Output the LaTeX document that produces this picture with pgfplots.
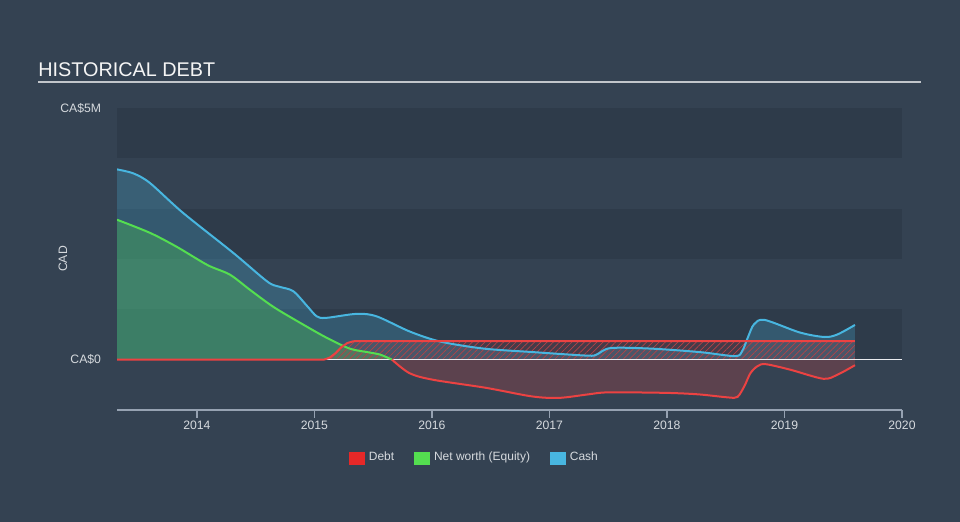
\documentclass[border=0pt]{standalone}
\usepackage{fontspec}
\setmainfont{Liberation Sans}
\usepackage{pgfplots}
\pgfplotsset{compat=1.18}
\usepgfplotslibrary{fillbetween}
\usetikzlibrary{patterns.meta}

\definecolor{bg}{RGB}{52,66,82}
\definecolor{band}{RGB}{46,59,74}
\definecolor{debtred}{RGB}{236,66,66}
\definecolor{legred}{RGB}{230,40,40}
\definecolor{eqgreen}{RGB}{84,222,80}
\definecolor{cashblue}{RGB}{72,182,224}
\definecolor{txt}{RGB}{214,218,222}
\definecolor{axisgray}{RGB}{150,162,178}
\pagecolor{bg}

\begin{document}
\begin{tikzpicture}
\begin{scope}[x=0.5pt,y=0.5pt]
  \useasboundingbox (0,0) rectangle (960,522);
  \node[anchor=base west, inner sep=0pt, text=white!92!gray,
        font=\fontsize{9.9}{12}\selectfont] at (38,445) {HISTORICAL DEBT};
  \draw[white!70!bg, line width=0.7pt] (38,440) -- (921,440);
\end{scope}

\begin{axis}[
    at={(58.5pt,56pt)}, anchor=south west,
    scale only axis, width=392.5pt, height=151pt,
    xmin=2013.32, xmax=2020, ymin=-1, ymax=5,
    axis x line*=bottom, axis y line*=left,
    y axis line style={draw=none},
    x axis line style={draw=axisgray, line width=0.6pt},
    xtick={2014,2015,2016,2017,2018,2019,2020},
    xticklabels={2014,2015,2016,2017,2018,2019,2020},
    ytick={0,5}, yticklabels={CA\$0,CA\$5M},
    tick align=outside, major tick length=4pt,
    xtick style={draw=axisgray, line width=0.6pt},
    ytick style={draw=none},
    ticklabel style={text=txt, font=\fontsize{6.1}{7}\selectfont},
    yticklabel style={anchor=east, inner sep=0pt, xshift=-3.8pt},
    xticklabel style={anchor=north, inner sep=0pt, yshift=-1.5pt},
    ylabel={CAD},
    ylabel style={at={(axis description cs:-0.069,0.5)}, anchor=center,
                  text=txt, font=\fontsize{6.1}{7}\selectfont},
    legend style={at={(0.5,0)}, anchor=center, xshift=-17pt, yshift=-24pt,
                  draw=none, fill=none, text=txt,
                  font=\fontsize{6}{7}\selectfont,
                  /tikz/every even column/.append style={column sep=8pt}},
    legend columns=3,
]
% horizontal bands
\pgfonlayer{axis background}
\fill[band] (axis cs:2013.32,4) rectangle (axis cs:2020,5);
\fill[band] (axis cs:2013.32,2) rectangle (axis cs:2020,3);
\fill[band] (axis cs:2013.32,0) rectangle (axis cs:2020,1);
\endpgfonlayer

% zero paths
\addplot[draw=none, name path=z1, forget plot] coordinates {(2013.32,0) (2019.6,0)};
\addplot[draw=none, name path=zpos, forget plot] coordinates {(2013.32,0) (2015.66,0)};
\addplot[draw=none, name path=zneg, forget plot] coordinates {(2015.66,0) (2019.6,0)};

% cash
\addplot[draw=none, smooth, name path=cash, forget plot] coordinates {
(2013.32,3.78) (2013.46,3.70) (2013.6,3.51) (2013.88,2.92) (2014.31,2.12)
(2014.6,1.55) (2014.7,1.45) (2014.82,1.36) (2014.94,1.06) (2015.02,0.86)
(2015.1,0.83) (2015.36,0.91) (2015.53,0.86) (2015.81,0.56) (2016.07,0.36)
(2016.44,0.22) (2016.86,0.15) (2017.32,0.08) (2017.40,0.10) (2017.52,0.23)
(2017.86,0.22) (2018.28,0.15) (2018.58,0.07) (2018.64,0.17) (2018.69,0.45)
(2018.74,0.70) (2018.83,0.79) (2019.13,0.54) (2019.34,0.45) (2019.45,0.50) (2019.6,0.69)};

% net worth, positive and negative parts
\addplot[draw=none, smooth, name path=eqpos, forget plot] coordinates {
(2013.32,2.78) (2013.6,2.52) (2013.83,2.24) (2014.09,1.88) (2014.28,1.69)
(2014.45,1.39) (2014.65,1.05) (2014.88,0.73) (2015.1,0.44) (2015.3,0.22)
(2015.45,0.15) (2015.56,0.10) (2015.66,0.00)};
\addplot[draw=none, smooth, name path=eqneg, forget plot] coordinates {
(2015.66,0.00) (2015.81,-0.27) (2016.01,-0.40) (2016.46,-0.56) (2016.85,-0.73)
(2017.08,-0.76) (2017.33,-0.69) (2017.5,-0.65) (2017.99,-0.66) (2018.27,-0.69)
(2018.52,-0.75) (2018.6,-0.74) (2018.66,-0.52) (2018.71,-0.27) (2018.77,-0.13)
(2018.84,-0.09) (2019.05,-0.20) (2019.33,-0.38) (2019.45,-0.30) (2019.6,-0.11)};

% debt
\addplot[draw=none, name path=debt, forget plot] coordinates {
(2013.32,0) (2015.08,0) (2015.13,0.04) (2015.18,0.13) (2015.23,0.25)
(2015.28,0.33) (2015.33,0.365) (2015.38,0.37) (2019.6,0.37)};

% fills
\addplot[cashblue, opacity=0.25, forget plot] fill between[of=cash and z1];
\addplot[eqgreen, opacity=0.28, forget plot] fill between[of=eqpos and zpos];
\addplot[debtred, opacity=0.22, forget plot] fill between[of=eqneg and zneg];
\addplot[debtred, opacity=0.12, forget plot] fill between[of=debt and z1];
\addplot[pattern={Lines[angle=45,distance=2.2pt,line width=0.35pt]},
         pattern color=debtred!70!bg, draw=none, forget plot] fill between[of=debt and z1];

% zero line
\addplot[white!80!axisgray, line width=0.6pt, forget plot] coordinates {(2013.32,0) (2020,0)};

% lines
\addplot[cashblue, line width=1pt, smooth, forget plot] coordinates {
(2013.32,3.78) (2013.46,3.70) (2013.6,3.51) (2013.88,2.92) (2014.31,2.12)
(2014.6,1.55) (2014.7,1.45) (2014.82,1.36) (2014.94,1.06) (2015.02,0.86)
(2015.1,0.83) (2015.36,0.91) (2015.53,0.86) (2015.81,0.56) (2016.07,0.36)
(2016.44,0.22) (2016.86,0.15) (2017.32,0.08) (2017.40,0.10) (2017.52,0.23)
(2017.86,0.22) (2018.28,0.15) (2018.58,0.07) (2018.64,0.17) (2018.69,0.45)
(2018.74,0.70) (2018.83,0.79) (2019.13,0.54) (2019.34,0.45) (2019.45,0.50) (2019.6,0.69)};
\addplot[eqgreen, line width=1pt, smooth, forget plot] coordinates {
(2013.32,2.78) (2013.6,2.52) (2013.83,2.24) (2014.09,1.88) (2014.28,1.69)
(2014.45,1.39) (2014.65,1.05) (2014.88,0.73) (2015.1,0.44) (2015.3,0.22)
(2015.45,0.15) (2015.56,0.10) (2015.66,0.00)};
\addplot[debtred, line width=1pt, smooth, forget plot] coordinates {
(2015.66,0.00) (2015.81,-0.27) (2016.01,-0.40) (2016.46,-0.56) (2016.85,-0.73)
(2017.08,-0.76) (2017.33,-0.69) (2017.5,-0.65) (2017.99,-0.66) (2018.27,-0.69)
(2018.52,-0.75) (2018.6,-0.74) (2018.66,-0.52) (2018.71,-0.27) (2018.77,-0.13)
(2018.84,-0.09) (2019.05,-0.20) (2019.33,-0.38) (2019.45,-0.30) (2019.6,-0.11)};
\addplot[debtred, line width=1pt, forget plot] coordinates {
(2013.32,0) (2015.08,0) (2015.13,0.04) (2015.18,0.13) (2015.23,0.25)
(2015.28,0.33) (2015.33,0.365) (2015.38,0.37) (2019.6,0.37)};

% legend
\addlegendimage{legend image code/.code={\fill[legred] (0pt,-3pt) rectangle (7.5pt,3pt);}}
\addlegendentry{Debt}
\addlegendimage{legend image code/.code={\fill[eqgreen] (0pt,-3pt) rectangle (7.5pt,3pt);}}
\addlegendentry{Net worth (Equity)}
\addlegendimage{legend image code/.code={\fill[cashblue] (0pt,-3pt) rectangle (7.5pt,3pt);}}
\addlegendentry{Cash}
\end{axis}
\end{tikzpicture}
\end{document}
